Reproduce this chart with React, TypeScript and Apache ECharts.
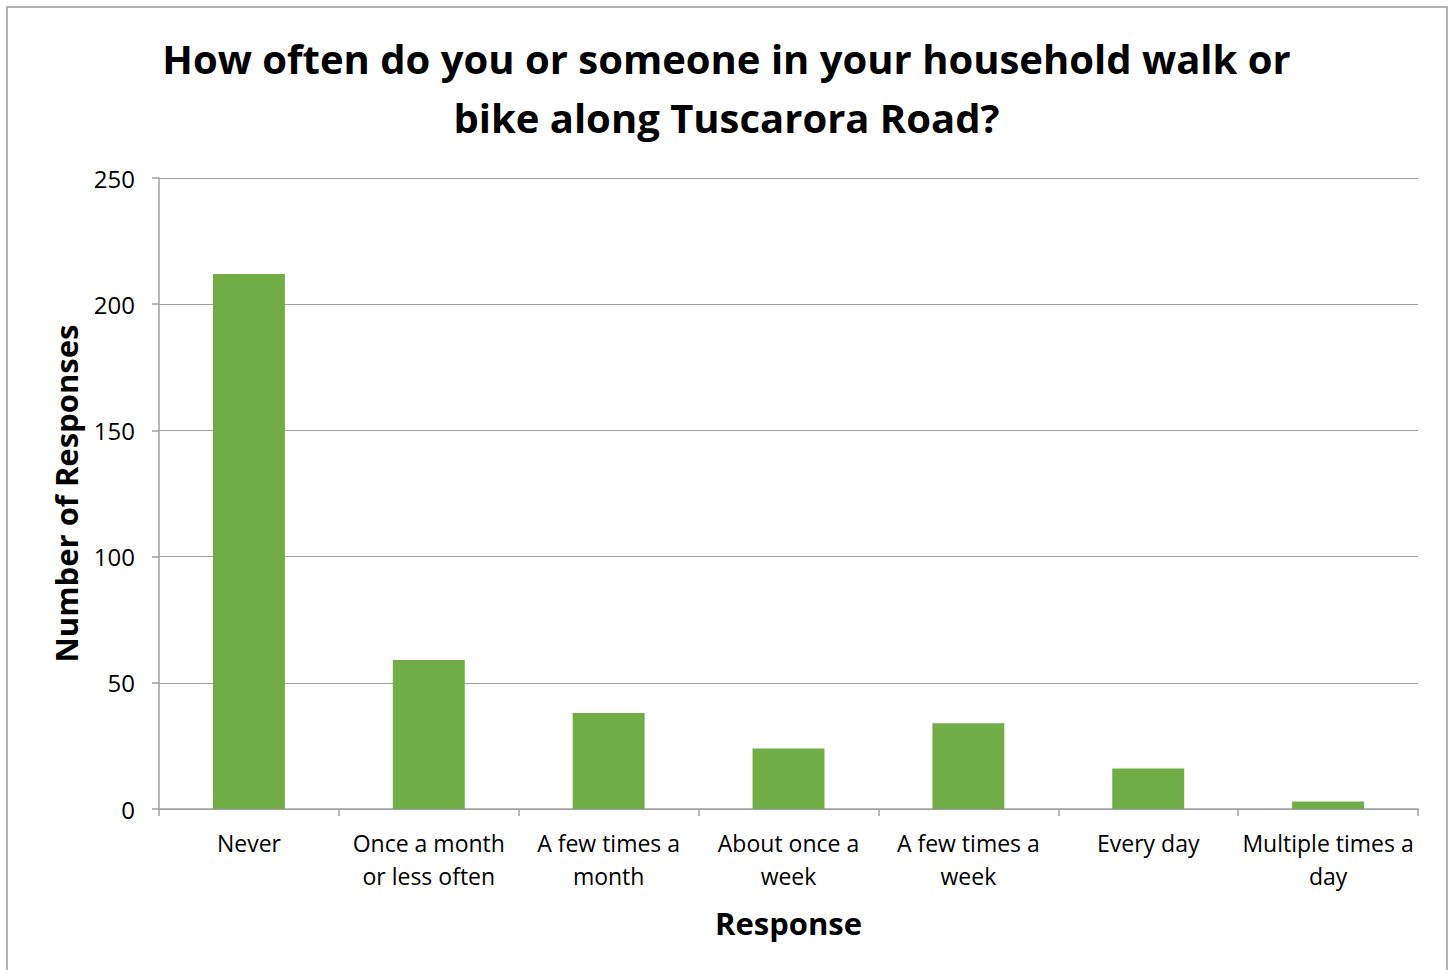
import React, { useEffect, useRef } from "react";
import * as echarts from "echarts";

const titleLines = [
  "How often do you or someone in your household walk or",
  "bike along Tuscarora Road?",
];
const categories = [
  "Never",
  "Once a month\nor less often",
  "A few times a\nmonth",
  "About once a\nweek",
  "A few times a\nweek",
  "Every day",
  "Multiple times a\nday",
];
const responses = [212, 59, 38, 24, 34, 16, 3];
const yTicks = { min: 0, max: 250, interval: 50 };
const xAxisName = "Response";
const yAxisName = "Number of Responses";

const FONT = "'Open Sans', 'Liberation Sans', sans-serif";

export default function App() {
  const ref = useRef<HTMLDivElement>(null);
  useEffect(() => {
    document.body.style.margin = "0";
    const chart = echarts.init(ref.current!, null, { renderer: "svg" });
    chart.setOption({
      animation: false,
      backgroundColor: "#ffffff",
      textStyle: { fontFamily: FONT },
      graphic: [
        {
          type: "rect",
          shape: { x: 7, y: 7, width: 1440, height: 980 },
          style: { fill: "none", stroke: "#9a9a9a", lineWidth: 1.5 },
          silent: true,
        },
      ],
      title: {
        text: titleLines.join("\n"),
        left: "center",
        top: 24,
        textStyle: {
          fontFamily: FONT,
          fontSize: 40,
          fontWeight: "bold",
          color: "#000",
          lineHeight: 59,
        },
      },
      grid: { left: 159, right: 35, top: 178, bottom: 161, containLabel: false },
      xAxis: {
        type: "category",
        data: categories,
        name: xAxisName,
        nameLocation: "middle",
        nameGap: 98,
        nameTextStyle: { fontFamily: FONT, fontSize: 31, fontWeight: "bold", color: "#000" },
        axisLine: { lineStyle: { color: "#a0a0a0", width: 1.5 } },
        axisTick: { show: true, length: 7, alignWithLabel: false, lineStyle: { color: "#a0a0a0", width: 1.5 } },
        axisLabel: {
          fontFamily: FONT,
          fontSize: 23,
          color: "#000",
          margin: 17,
          lineHeight: 33,
          interval: 0,
        },
      },
      yAxis: {
        type: "value",
        min: yTicks.min,
        max: yTicks.max,
        interval: yTicks.interval,
        name: yAxisName,
        nameLocation: "middle",
        nameGap: 78,
        nameRotate: 90,
        nameTextStyle: { fontFamily: FONT, fontSize: 31, fontWeight: "bold", color: "#000" },
        axisLine: { show: true, lineStyle: { color: "#a0a0a0", width: 1.5 } },
        axisTick: { show: true, length: 7, lineStyle: { color: "#a0a0a0", width: 1.5 } },
        splitLine: { show: true, lineStyle: { color: "#a0a0a0", width: 1.2 } },
        axisLabel: { fontFamily: FONT, fontSize: 24, color: "#000", margin: 24 },
      },
      series: [
        {
          type: "bar",
          data: responses,
          barCategoryGap: "60%",
          itemStyle: { color: "#70AD47" },
        },
      ],
    });
    return () => chart.dispose();
  }, []);
  return <div ref={ref} style={{ width: 1453, height: 970 }} />;
}
